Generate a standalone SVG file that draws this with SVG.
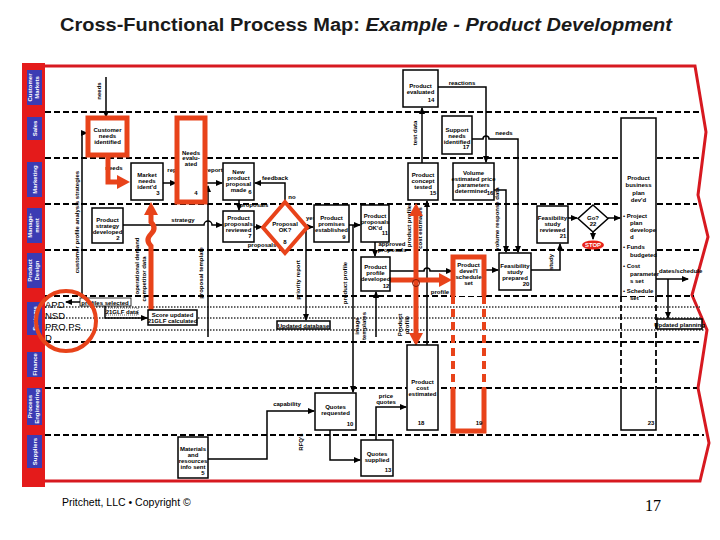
<svg xmlns="http://www.w3.org/2000/svg" width="720" height="540" viewBox="0 0 720 540">
<style>
text{font-family:"Liberation Sans",Arial,sans-serif}
.t{font-size:6px;font-weight:bold;fill:#000;text-anchor:middle}
.tl{font-size:6px;font-weight:bold;fill:#000}
.lane{font-size:6px;font-weight:bold;fill:#fff;text-anchor:middle}
.box{fill:#fff;stroke:#000;stroke-width:1.5}
.rbox{fill:#fff;stroke:#e8431a;stroke-width:5}
.ln{fill:none;stroke:#000;stroke-width:1.5}
.rl{fill:none;stroke:#e8431a;stroke-width:5}
.dash{fill:none;stroke:#000;stroke-width:1.8;stroke-dasharray:6,3}
.dot{fill:none;stroke:#333;stroke-width:1.4;stroke-dasharray:1.5,1.5}
.lb{fill:#3b3bb3}
</style>
<defs>
<marker id="a" markerUnits="userSpaceOnUse" markerWidth="7" markerHeight="6" refX="6" refY="3" orient="auto"><path d="M0,0 L7,3 L0,6 z" fill="#000"/></marker>
<marker id="ra" markerUnits="userSpaceOnUse" markerWidth="14" markerHeight="14" refX="1" refY="7" orient="auto-start-reverse"><path d="M0,0 L13,7 L0,14 z" fill="#e8431a"/></marker>
</defs>
<rect width="720" height="540" fill="#fff"/>
<text x="60" y="31" font-size="18" font-weight="bold" fill="#1a1a1a" textLength="612" lengthAdjust="spacingAndGlyphs">Cross-Functional Process Map: <tspan font-style="italic">Example - Product Development</tspan></text>

<g id="frame">
<polyline points="45,66 695,66 706,132 698,195 708,237 692,295 707,330 698,388 709,443 700,481 22,481" fill="none" stroke="#d71920" stroke-width="3"/>
<rect x="22" y="63" width="23" height="424" fill="#e41b1b"/>
<g class="dash"><path d="M45,112H700M45,158H700M45,204H697M45,250H700M45,296H694M45,342H702M45,388H697M45,435H704"/></g>
<g class="dot"><path d="M45,307H700M45,318H702M45,330H704"/></g>
</g>

<g id="lanes">
<rect class="lb" x="27" y="70" width="15" height="35"/><text class="lane" transform="translate(32,87.5) rotate(-90)">Customer</text><text class="lane" transform="translate(39,87.5) rotate(-90)">Markets</text>
<rect class="lb" x="27" y="117" width="15" height="23"/><text class="lane" transform="translate(37,128.5) rotate(-90)">Sales</text>
<rect class="lb" x="27" y="162" width="15" height="35"/><text class="lane" transform="translate(37,179.5) rotate(-90)">Marketing</text>
<rect class="lb" x="27" y="208" width="15" height="35"/><text class="lane" transform="translate(32,225.5) rotate(-90)">Manage-</text><text class="lane" transform="translate(39,225.5) rotate(-90)">ment</text>
<rect class="lb" x="27" y="253" width="15" height="35"/><text class="lane" transform="translate(32,270.5) rotate(-90)">Product</text><text class="lane" transform="translate(39,270.5) rotate(-90)">Design</text>
<rect class="lb" x="27" y="302" width="15" height="33"/><text class="lane" transform="translate(37,318.5) rotate(-90)">Systems</text>
<rect class="lb" x="27" y="352" width="15" height="25"/><text class="lane" transform="translate(37,364.5) rotate(-90)">Finance</text>
<rect class="lb" x="27" y="388" width="15" height="37"/><text class="lane" transform="translate(32,406.5) rotate(-90)">Process</text><text class="lane" transform="translate(39,406.5) rotate(-90)">Engineering</text>
<rect class="lb" x="27" y="435" width="15" height="33"/><text class="lane" transform="translate(37,451.5) rotate(-90)">Suppliers</text>
</g>

<g id="systems-text" font-size="9.5" fill="#000">
<text x="45" y="308">APD</text><text x="45" y="319">NSD</text><text x="45" y="330">PRO PS</text><text x="45" y="341">D</text>
</g>

<g id="connectors">
<path class="ln" d="M106,77V117" marker-end="url(#a)"/>
<path class="ln" d="M82,302V133H87" marker-end="url(#a)"/>
<path class="ln" d="M131,302H66" marker-end="url(#a)"/>
<path class="ln" d="M105,303V318H147" marker-end="url(#a)"/>
<path class="ln" d="M163,183H176" marker-end="url(#a)"/>
<path class="ln" d="M205,183H222" marker-end="url(#a)"/>
<path class="ln" d="M208,337V186" marker-end="url(#a)"/>
<path class="ln" d="M123,225H204a4,4 0 0 1 8,0H222" marker-end="url(#a)"/>
<path class="ln" d="M285,204V183H255" marker-end="url(#a)"/>
<path class="ln" d="M239,200V210" marker-end="url(#a)"/>
<path class="ln" d="M254,227H262" marker-end="url(#a)"/>
<path class="ln" d="M307,227H313" marker-end="url(#a)"/>
<path class="ln" d="M306,230V320" marker-end="url(#a)"/>
<path class="ln" d="M349,225H360" marker-end="url(#a)"/>
<path class="ln" d="M353,225V392" marker-end="url(#a)"/>
<path class="ln" d="M375,242V256" marker-end="url(#a)"/>
<path class="ln" d="M376,337V292" marker-end="url(#a)"/>
<path class="ln" d="M390,271H424a3,3 0 0 1 6,0H452" marker-end="url(#a)"/>
<path class="ln" d="M427,344V201" marker-end="url(#a)" marker-start="url(#a)"/>
<path class="ln" d="M422,163V108" marker-end="url(#a)"/>
<path class="ln" d="M438,87H486V162" marker-end="url(#a)"/>
<path class="ln" d="M472,139H483a3,3 0 0 1 6,0H518V252" marker-end="url(#a)"/>
<path class="ln" d="M494,190H506V252" marker-end="url(#a)"/>
<path class="ln" d="M484,270H498" marker-end="url(#a)"/>
<path class="ln" d="M531,270H560V244" marker-end="url(#a)"/>
<path class="ln" d="M568,218H577" marker-end="url(#a)"/>
<path class="ln" d="M608,218H620" marker-end="url(#a)"/>
<path class="ln" d="M593,232V239" marker-end="url(#a)"/>
<path class="ln" d="M656,279H688" marker-end="url(#a)"/>
<path class="ln" d="M668,279V318" marker-end="url(#a)"/>
<path class="ln" d="M208,459H267V411H314" marker-end="url(#a)"/>
<path class="ln" d="M330,430V460H360" marker-end="url(#a)"/>
<path class="ln" d="M376,440V407H406" marker-end="url(#a)"/>

<text class="t" transform="translate(101,91) rotate(-90)">needs</text>
<text class="t" transform="translate(79,222) rotate(-90)">customer profile analysis strategies</text>
<rect x="80" y="298" width="51" height="8" fill="#fff" stroke="#000" stroke-width="0.8"/>
<text class="t" x="105" y="304.5">profiles selected</text>
<rect x="106" y="308" width="32" height="7" fill="#fff" stroke="#000" stroke-width="0.6" stroke-dasharray="1,1"/>
<text class="t" x="122" y="313.5">21GLF data</text>
<text class="t" transform="translate(139,266) rotate(-90)">operational demand</text>
<text class="t" transform="translate(146,279) rotate(-90)">competitor data</text>
<text class="t" transform="translate(203,273) rotate(-90)">proposal template</text>
<text class="t" x="114" y="170">needs</text>
<text class="t" x="176" y="172">report</text>
<text class="t" x="214" y="172">report</text>
<text class="t" x="183" y="222">strategy</text>
<text class="t" x="275" y="180">feedback</text>
<text class="t" x="292" y="199">no</text>
<text class="t" x="254" y="207">proposals</text>
<text class="t" x="262" y="247">proposals</text>
<text class="t" x="311" y="220">yes</text>
<text class="t" transform="translate(300,280) rotate(-90)">priority report</text>
<text class="t" transform="translate(347,283) rotate(-90)">product profile</text>
<text class="t" x="392" y="246">approved</text>
<text class="t" x="392" y="252">proposals</text>
<text class="t" transform="translate(359,326) rotate(-90)">image</text>
<text class="t" transform="translate(366,326) rotate(-90)">templates</text>
<text class="t" transform="translate(402,325) rotate(-90)">Product</text>
<text class="t" transform="translate(409,325) rotate(-90)">profile</text>
<text class="t" x="440" y="294">profile</text>
<text class="t" transform="translate(417,133) rotate(-90)">test data</text>
<text class="t" transform="translate(411,226) rotate(-90)">product profile</text>
<text class="t" transform="translate(422,228) rotate(-90)">cost estimates</text>
<text class="t" x="462" y="85">reactions</text>
<text class="t" x="504" y="135">needs</text>
<text class="t" transform="translate(499,219) rotate(-90)">volume response data</text>
<text class="t" transform="translate(553,262) rotate(-90)">study</text>
<text class="tl" x="659" y="273">dates/schedule</text>
<text class="t" x="287" y="406">capability</text>
<text class="t" transform="translate(303,442) rotate(-90)">RFQ's</text>
<text class="t" x="386" y="398">price</text>
<text class="t" x="386" y="404">quotes</text>

<path class="rl" d="M108,155V182H118" marker-end="url(#ra)"/>
<path class="rl" d="M151,316V246q-6,-6 0,-12q6,-6 0,-12V214" marker-end="url(#ra)"/>
<path class="rl" d="M390,280H440" marker-end="url(#ra)"/>
<path class="rl" d="M416,215V334" marker-end="url(#ra)" marker-start="url(#ra)"/>
<circle cx="416" cy="283" r="3.5" fill="none" stroke="#7a1a0a" stroke-width="1"/>
</g>

<g id="n1"><rect class="rbox" x="88" y="118" width="39" height="37"/><text class="t" x="107.5" y="132">Customer</text><text class="t" x="107.5" y="138">needs</text><text class="t" x="107.5" y="144">identified</text></g>
<g id="n4"><rect class="rbox" x="177" y="118" width="28" height="84"/><text class="t" x="191" y="155">Needs</text><text class="t" x="191" y="160">evalu-</text><text class="t" x="191" y="166">ated</text><text class="t" x="196" y="195">4</text></g>
<g id="n3"><rect class="box" x="131" y="163" width="32" height="37"/><text class="t" x="147" y="177">Market</text><text class="t" x="147" y="183">needs</text><text class="t" x="147" y="189">ident'd</text><text class="t" x="158" y="195">3</text></g>
<g id="n6"><rect class="box" x="223" y="163" width="31" height="37"/><text class="t" x="238.5" y="174">New</text><text class="t" x="238.5" y="180">product</text><text class="t" x="238.5" y="186">proposal</text><text class="t" x="238.5" y="192">made</text><text class="t" x="250" y="194">6</text></g>
<g id="n14"><rect class="box" x="403" y="70" width="35" height="37"/><text class="t" x="420.5" y="88">Product</text><text class="t" x="420.5" y="94">evaluated</text><text class="t" x="431" y="102">14</text></g>
<g id="n17"><rect class="box" x="442" y="116" width="30" height="38"/><text class="t" x="457" y="132">Support</text><text class="t" x="457" y="138">needs</text><text class="t" x="457" y="144">identified</text><text class="t" x="466" y="149">17</text></g>
<g id="n15"><rect class="box" x="408" y="163" width="30" height="37"/><text class="t" x="423" y="177">Product</text><text class="t" x="423" y="183">concept</text><text class="t" x="423" y="189">tested</text><text class="t" x="433" y="195">15</text></g>
<g id="n16"><rect class="box" x="453" y="163" width="41" height="37"/><text class="t" x="473.5" y="175">Volume</text><text class="t" x="473.5" y="181">estimated price</text><text class="t" x="473.5" y="187">parameters</text><text class="t" x="471" y="193">determined</text><text class="t" x="490" y="195">16</text></g>
<g id="n2"><rect class="box" x="92" y="208" width="31" height="35"/><text class="t" x="107.5" y="222">Product</text><text class="t" x="107.5" y="228">strategy</text><text class="t" x="107.5" y="234">developed</text><text class="t" x="118" y="240">2</text></g>
<g id="n7"><rect class="box" x="223" y="211" width="31" height="31"/><text class="t" x="238.5" y="220">Product</text><text class="t" x="238.5" y="226">proposals</text><text class="t" x="238.5" y="232">reviewed</text><text class="t" x="250" y="238">7</text></g>
<g id="n8"><polygon points="285,202 307,227.5 285,253 263,227.5" fill="#fff" stroke="#e8431a" stroke-width="4"/><text class="t" x="285" y="226">Proposal</text><text class="t" x="285" y="232">OK?</text><text class="t" x="285" y="244">8</text></g>
<g id="n9"><rect class="box" x="314" y="205" width="35" height="37"/><text class="t" x="331.5" y="220">Product</text><text class="t" x="331.5" y="226">promises</text><text class="t" x="331.5" y="232">established</text><text class="t" x="344" y="239">9</text></g>
<g id="n11"><rect class="box" x="361" y="205" width="28" height="37"/><text class="t" x="375" y="218">Product</text><text class="t" x="375" y="224">proposals</text><text class="t" x="375" y="230">OK'd</text><text class="t" x="385" y="235">11</text></g>
<g id="n12"><rect class="box" x="361" y="257" width="29" height="34"/><text class="t" x="375.5" y="269">Product</text><text class="t" x="375.5" y="275">profile</text><text class="t" x="375.5" y="281">developed</text><text class="t" x="386" y="288">12</text></g>
<g id="n19">
<path d="M453,296V257H484V296" fill="#fff" stroke="#e8431a" stroke-width="5"/>
<path d="M453,296V388M484,296V388" fill="none" stroke="#e8431a" stroke-width="4" stroke-dasharray="8,5"/>
<path d="M453,388V431H484V388" fill="none" stroke="#e8431a" stroke-width="5"/>
<text class="t" x="468.5" y="267">Product</text><text class="t" x="468.5" y="273">devel'l</text><text class="t" x="468.5" y="279">schedule</text><text class="t" x="468.5" y="285">set</text><text class="t" x="479" y="425">19</text></g>
<g id="n20"><rect class="box" x="499" y="253" width="32" height="37"/><text class="t" x="515" y="268">Feasibility</text><text class="t" x="515" y="274">study</text><text class="t" x="515" y="280">prepared</text><text class="t" x="526" y="286">20</text></g>
<g id="n21"><rect class="box" x="537" y="206" width="31" height="37"/><text class="t" x="552.5" y="220">Feasibility</text><text class="t" x="552.5" y="226">study</text><text class="t" x="552.5" y="232">reviewed</text><text class="t" x="563" y="238">21</text></g>
<g id="n22"><polygon points="593,205 608,218.5 593,232 578,218.5" fill="#fff" stroke="#000" stroke-width="1.5"/><text class="t" x="593" y="220">Go?</text><text class="t" x="593" y="226">22</text></g>
<g id="stop"><ellipse cx="593" cy="245" rx="11" ry="4.5" fill="#e8231a"/><text class="t" x="593" y="247" style="fill:#fff">STOP</text></g>
<g id="n23">
<path d="M621,296V118H656V296" fill="#fff" stroke="#000" stroke-width="1.5"/>
<path class="dash" d="M621,296V388M656,296V388"/>
<path d="M621,388V430H656V388" fill="none" stroke="#000" stroke-width="1.5"/>
<text class="t" x="638.5" y="180">Product</text><text class="t" x="638.5" y="187">business</text><text class="t" x="638.5" y="195">plan</text><text class="t" x="638.5" y="202">dev'd</text>
<text class="tl" x="623" y="218">•  Project</text><text class="tl" x="630" y="225">plan</text><text class="tl" x="630" y="232">develope</text><text class="tl" x="630" y="239">d</text>
<text class="tl" x="623" y="249">•  Funds</text><text class="tl" x="630" y="257">budgeted</text>
<text class="tl" x="623" y="268">•  Cost</text><text class="tl" x="630" y="276" font-size="5.5">parameter</text><text class="tl" x="630" y="283">s set</text>
<text class="tl" x="623" y="293">•  Schedule</text><text class="tl" x="630" y="300">set</text>
<text class="t" x="651" y="425">23</text></g>
<g id="n21glf"><rect x="148" y="310" width="49" height="15" fill="#fff" stroke="#000" stroke-width="1.5"/><text class="t" x="172.5" y="317" font-size="6.5">Score updated</text><text class="t" x="172.5" y="323" font-size="6.5">21GLF calculated</text></g>
<g id="db"><rect x="277" y="321" width="53" height="8" fill="#fff" stroke="#000" stroke-width="1.5"/><text class="t" x="303.5" y="327.5">Updated database</text></g>
<g id="plan"><rect x="657" y="319" width="45" height="10" fill="#fff" stroke="#000" stroke-width="1.5"/><text class="t" x="679.5" y="326.5">Updated planning</text></g>
<g id="n18"><rect class="box" x="407" y="345" width="31" height="85"/><text class="t" x="422.5" y="384">Product</text><text class="t" x="422.5" y="390">cost</text><text class="t" x="422.5" y="396">estimated</text><text class="t" x="421" y="425">18</text></g>
<g id="n10"><rect class="box" x="315" y="393" width="41" height="37"/><text class="t" x="335.5" y="409">Quotes</text><text class="t" x="335.5" y="415">requested</text><text class="t" x="350" y="426">10</text></g>
<g id="n13"><rect class="box" x="361" y="440" width="32" height="36"/><text class="t" x="377" y="456">Quotes</text><text class="t" x="377" y="462">supplied</text><text class="t" x="388" y="472">13</text></g>
<g id="n5"><rect class="box" x="178" y="437" width="30" height="41"/><text class="t" x="193" y="451">Materials</text><text class="t" x="193" y="457">and</text><text class="t" x="193" y="463">resources</text><text class="t" x="193" y="469">info sent</text><text class="t" x="203" y="475">5</text></g>

<circle cx="66" cy="321" r="30" fill="none" stroke="#e8431a" stroke-width="4"/>
<text x="62" y="506" font-size="10.5" fill="#000">Pritchett, LLC • Copyright ©</text>
<text x="645" y="511" font-size="16" fill="#000" style="font-family:'Liberation Serif',serif">17</text>
</svg>
